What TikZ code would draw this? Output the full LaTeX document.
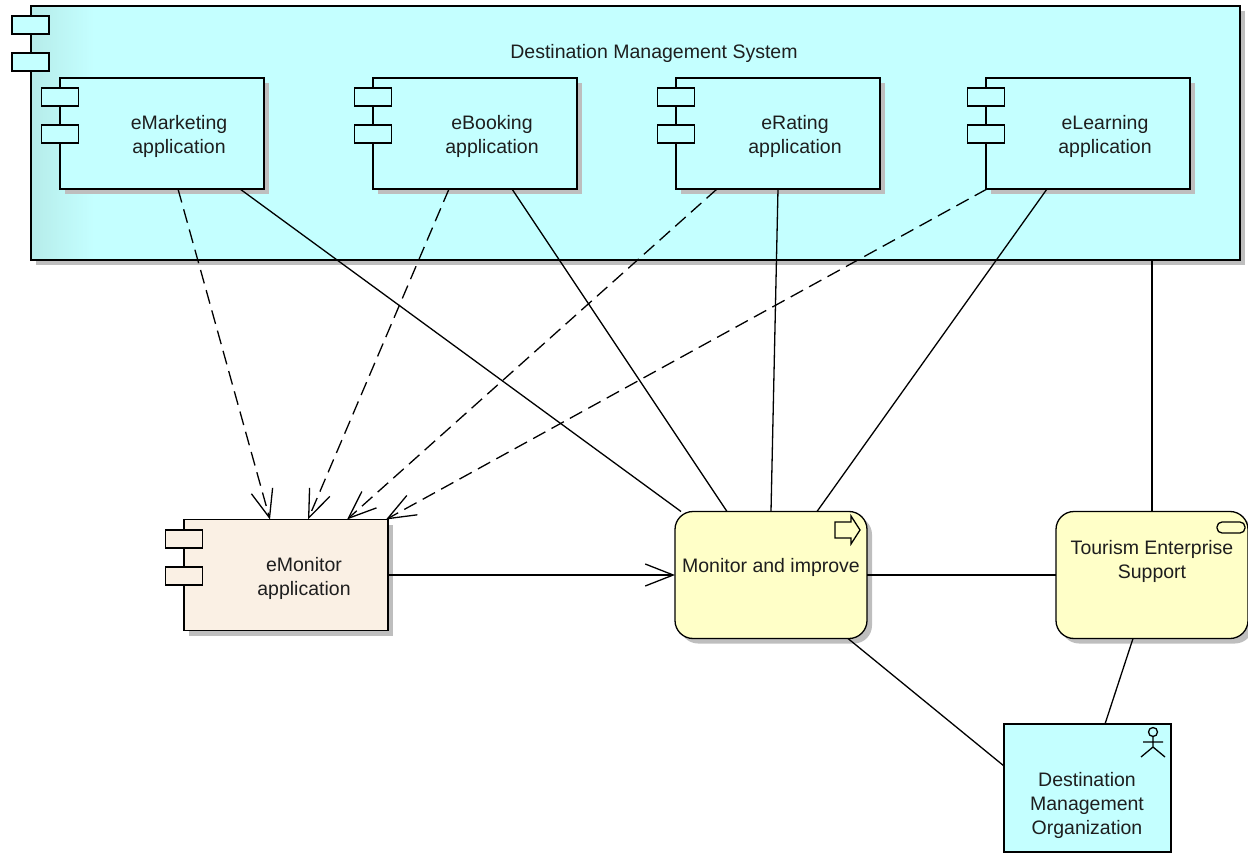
\documentclass[tikz,border=0pt]{standalone}
\usepackage{fontspec}
\setmainfont{Liberation Sans}
\usepackage{xcolor}
\usetikzlibrary{arrows.meta}
\usetikzlibrary{shadows}
\usetikzlibrary{positioning}
\definecolor{sysCyan}{RGB}{196,255,255}
\definecolor{sysCyanDark}{RGB}{182,236,234}
\definecolor{monBeige}{RGB}{250,240,228}
\definecolor{bizYellow}{RGB}{255,255,200}
\definecolor{shadowGrey}{RGB}{190,190,190}
\definecolor{textGrey}{RGB}{30,30,30}
\tikzset{
    box/.style = {draw,rectangle,line width=1.3pt,inner sep=0pt,outer sep=0pt},
    shadowBox/.style = {box,drop shadow={shadow xshift=5pt,shadow yshift=-5pt,fill=shadowGrey,opacity=1}},
    appBox/.style = {shadowBox,minimum width=204pt,minimum height=111pt},
    tabBox/.style = {box,minimum width=37pt,minimum height=18pt},
    bizBox/.style = {shadowBox,fill=bizYellow,rounded corners=18pt,minimum width=192pt,minimum height=127pt},
    label/.style = {align=center,inner sep=0pt,text=textGrey,font=\fontsize{19.5}{24}\selectfont},
    link/.style = {line width=1.3pt},
    usedby/.style = {line width=1.3pt,dash pattern=on 14pt off 7pt,-{Straight Barb[length=28pt,width=22pt]}},
    served/.style = {line width=1.3pt,-{Straight Barb[length=28pt,width=22pt]}},
    icon/.style = {line width=1.3pt}
}

\begin{document}
\begin{tikzpicture}[x=1pt,y=-1pt]

    \useasboundingbox (0,0) rectangle (1248,853);

    % outer system box, darker strip fades out to the right
    \node[shadowBox,fill=sysCyan,minimum width=1209pt,minimum height=254pt,
        path picture={
            \foreach \s in {0,1,...,31}{
                \pgfmathsetmacro{\pct}{100*\s/31}
                \fill[sysCyan!\pct!sysCyanDark] (-604.5+2*\s,-127) rectangle (-602+2*\s,127);
            }
        }] (system) at (635.5,133) {};
    \node[tabBox,fill=sysCyan] (systemTabA) at (30.5,25) {};
    \node[tabBox,fill=sysCyan] (systemTabB) at (30.5,62) {};
    \node[label] (systemLabel) at (654,53) {Destination Management System};

    % the four applications inside
    \foreach \name/\x/\txt in {eMarketing/162/eMarketing,eBooking/475/eBooking,eRating/778/eRating,eLearning/1088/eLearning}{
        \node[appBox,fill=sysCyan] (\name) at (\x,133.5) {};
        \node[tabBox,fill=sysCyan] (\name TabA) at (\x-102,97) {};
        \node[tabBox,fill=sysCyan] (\name TabB) at (\x-102,134) {};
        \node[label] (\name Label) at (\x+17,136) {\txt\\application};
    }

    \node[appBox,fill=monBeige] (eMonitor) at (286,575) {};
    \node[tabBox,fill=monBeige] (eMonitorTabA) at (184,539) {};
    \node[tabBox,fill=monBeige] (eMonitorTabB) at (184,576) {};
    \node[label] (eMonitorLabel) at (304,578) {eMonitor\\application};

    \node[bizBox] (monitor) at (771,575) {};
    \node[label] (monitorLabel) at (771,567) {Monitor and improve};
    \node[bizBox] (tourism) at (1152,575) {};
    \node[label] (tourismLabel) at (1152,561) {Tourism Enterprise\\Support};

    \node[box,fill=sysCyan,minimum width=167pt,minimum height=128pt] (dmo) at (1087.5,788) {};
    \node[label] (dmoLabel) at (1087,805) {Destination\\Management\\Organization};

    % icons
    \draw[icon] (835,522) -- (851,522) -- (851,516) -- (860,530) -- (851,544) -- (851,538) -- (835,538) -- cycle;
    \draw[icon,rounded corners=5pt] (1217,522) rectangle (1245,533);
    \draw[icon] (1153,732) circle (4.5pt);
    \draw[icon] (1153,736.5) -- (1153,747) (1143,742) -- (1163,742) (1141,757) -- (1153,747) -- (1165,757);

    % dashed lines into eMonitor
    \draw[usedby] ([xshift=118pt]eMarketing.south west) -- ([xshift=86pt]eMonitor.north west);
    \draw[usedby] ([xshift=76pt]eBooking.south west) -- ([xshift=124pt]eMonitor.north west);
    \draw[usedby] ([xshift=41pt]eRating.south west) -- ([xshift=163pt]eMonitor.north west);
    \draw[usedby] ([xshift=1pt]eLearning.south west) -- ([xshift=202pt]eMonitor.north west);

    % solid lines into monitor
    \draw[link] ([xshift=180pt]eMarketing.south west) -- ([xshift=6pt]monitor.north west);
    \draw[link] ([xshift=139pt]eBooking.south west) -- ([xshift=52pt]monitor.north west);
    \draw[link] ([xshift=102pt]eRating.south west) -- ([xshift=96pt]monitor.north west);
    \draw[link] ([xshift=61pt]eLearning.south west) -- ([xshift=142pt]monitor.north west);

    \draw[link] ([xshift=1121pt]system.south west) -- ([xshift=96pt]tourism.north west);
    \draw[served] (eMonitor.east) -- (monitor.west);
    \draw[link] (monitor.east) -- (tourism.west);
    \draw[link] ([xshift=173pt]monitor.south west) -- ([yshift=-42pt]dmo.north west);
    \draw[link] ([xshift=77pt]tourism.south west) -- ([xshift=101pt]dmo.north west);

\end{tikzpicture}
\end{document}
